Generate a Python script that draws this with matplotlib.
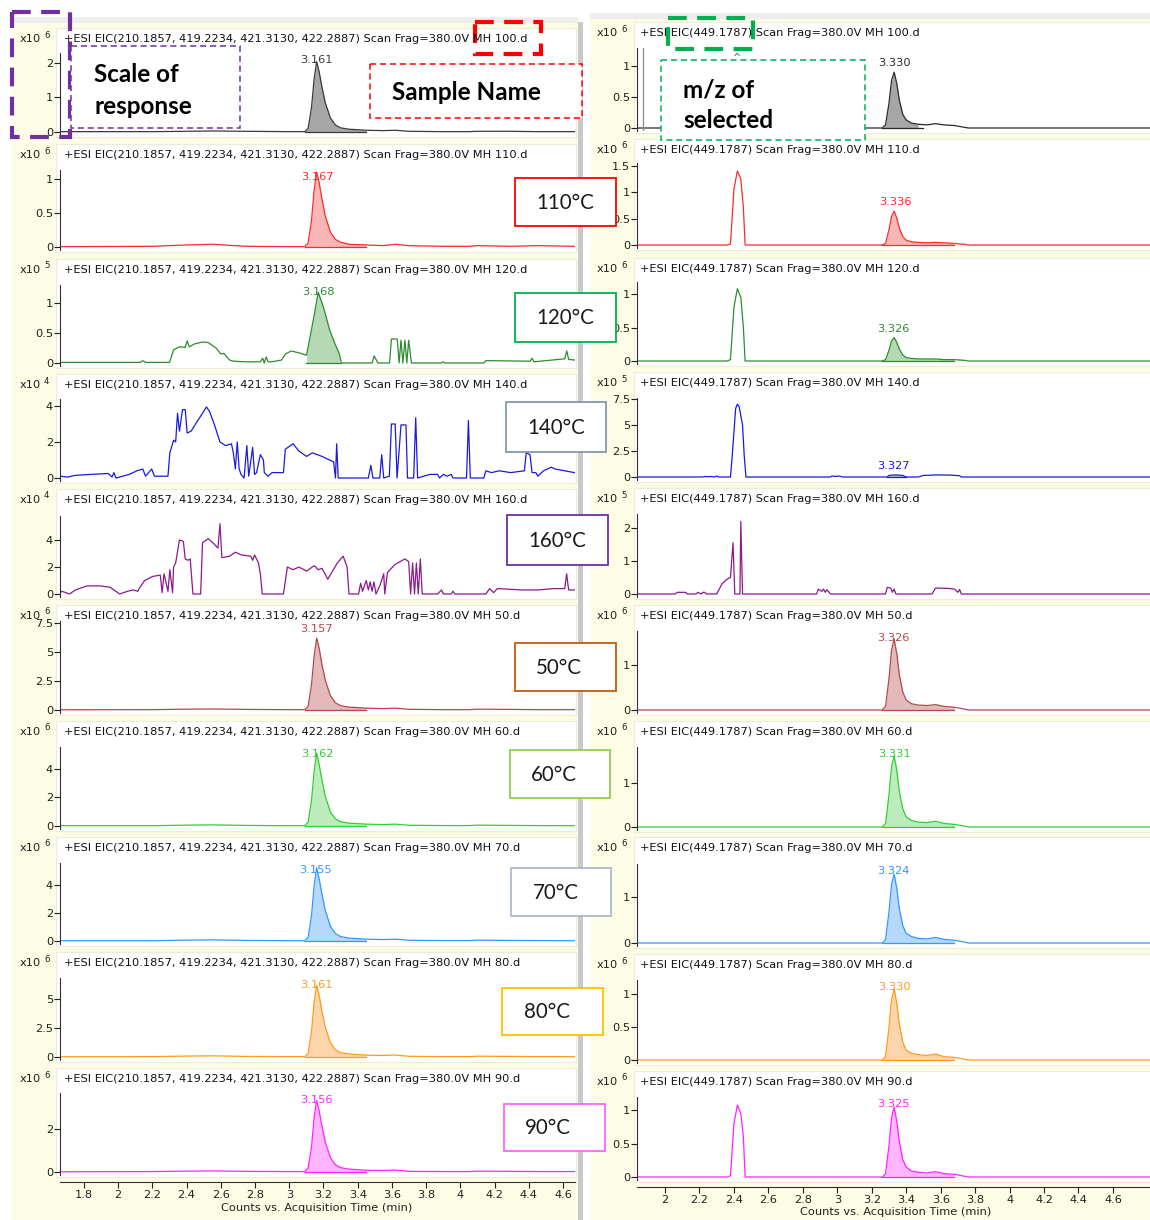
import matplotlib
matplotlib.use('Agg')
import matplotlib.pyplot as plt
from matplotlib.patches import Rectangle
import numpy as np

# ---------- data (time in min, counts in the x10^n units shown on each panel) ----------
SAMPLES = ['100', '110', '120', '140', '160', '50', '60', '70', '80', '90']
LEFT_MZ = '210.1857, 419.2234, 421.3130, 422.2887'
RIGHT_MZ = '449.1787'

# left column, smooth traces share one time grid
T_L = [1.66, 2.20, 2.40, 2.55, 2.75, 3.00, 3.09, 3.11, 3.13, 3.145, 3.16, 3.175, 3.19, 3.21,
       3.24, 3.27, 3.30, 3.35, 3.45, 3.55, 3.62, 3.70, 3.90, 4.05, 4.10, 4.30, 4.45, 4.67]
L100 = [0.01, 0.01, 0.02, 0.03, 0.02, 0.01, 0.01, 0.1, 0.71, 1.52, 2.03, 1.73, 1.32, 0.85,
        0.41, 0.2, 0.12, 0.08, 0.05, 0.04, 0.05, 0.02, 0.01, 0.01, 0.02, 0.02, 0.01, 0.01]
L110 = [0.005, 0.01, 0.03, 0.04, 0.01, 0.005, 0.005, 0.06, 0.39, 0.83, 1.10, 0.94, 0.72, 0.46,
        0.22, 0.11, 0.07, 0.04, 0.03, 0.02, 0.04, 0.02, 0.01, 0.01, 0.02, 0.01, 0.02, 0.01]
L50 = [0.02, 0.03, 0.07, 0.09, 0.05, 0.03, 0.03, 0.3, 2.2, 4.6, 6.2, 5.3, 4.0, 2.6,
       1.25, 0.62, 0.37, 0.25, 0.16, 0.12, 0.16, 0.06, 0.03, 0.03, 0.07, 0.05, 0.03, 0.03]
L60 = [0.02, 0.02, 0.06, 0.08, 0.04, 0.02, 0.02, 0.25, 1.8, 3.8, 5.1, 4.3, 3.3, 2.1,
       1.0, 0.5, 0.3, 0.2, 0.13, 0.1, 0.13, 0.05, 0.03, 0.03, 0.06, 0.04, 0.03, 0.02]
L70 = [0.02, 0.02, 0.06, 0.08, 0.04, 0.02, 0.02, 0.26, 1.8, 3.9, 5.2, 4.4, 3.4, 2.2,
       1.05, 0.52, 0.31, 0.21, 0.13, 0.1, 0.13, 0.05, 0.03, 0.03, 0.06, 0.04, 0.03, 0.02]
L80 = [0.02, 0.03, 0.08, 0.1, 0.05, 0.03, 0.03, 0.31, 2.2, 4.7, 6.2, 5.3, 4.0, 2.6,
       1.25, 0.62, 0.37, 0.26, 0.16, 0.13, 0.17, 0.06, 0.03, 0.03, 0.07, 0.05, 0.03, 0.03]
L90 = [0.01, 0.02, 0.04, 0.05, 0.03, 0.02, 0.02, 0.17, 1.15, 2.5, 3.3, 2.8, 2.15, 1.4,
       0.66, 0.33, 0.2, 0.13, 0.08, 0.07, 0.09, 0.03, 0.02, 0.02, 0.04, 0.03, 0.02, 0.02]

T120 = [1.660, 2.130, 2.144, 2.160, 2.300, 2.324, 2.358, 2.392, 2.403, 2.415,
        2.448, 2.493, 2.527, 2.572, 2.600, 2.617, 2.651, 2.674, 2.741, 2.831,
        2.845, 2.854, 2.865, 2.876, 2.899, 2.955, 2.978, 3.011, 3.056, 3.101,
        3.146, 3.169, 3.203, 3.236, 3.270, 3.293, 3.304, 3.484, 3.496, 3.518,
        3.586, 3.597, 3.631, 3.642, 3.653, 3.664, 3.676, 3.687, 3.698, 3.714,
        3.890, 3.900, 3.910, 4.137, 4.149, 4.408, 4.419, 4.430, 4.610, 4.622,
        4.633, 4.667]
L120 = [0.01, 0.01, 0.04, 0.01, 0.01, 0.22, 0.27, 0.26, 0.37, 0.27,
        0.32, 0.35, 0.34, 0.25, 0.15, 0.16, 0.05, 0.03, 0.02, 0.02,
        0.08, 0.0, 0.10, 0.02, 0.02, 0.05, 0.15, 0.20, 0.17, 0.13,
        0.8, 1.18, 0.9, 0.55, 0.3, 0.15, 0.0, 0.0, 0.12, 0.0,
        0.0, 0.4, 0.4, 0.0, 0.38, 0.0, 0.38, 0.0, 0.38, 0.0,
        0.0, 0.02, 0.0, 0.0, 0.04, 0.03, 0.08, 0.02, 0.07, 0.2,
        0.06, 0.05]

T140 = [1.660, 1.705, 1.750, 1.840, 1.942, 1.964, 1.975, 1.987, 2.065, 2.110,
        2.144, 2.160, 2.196, 2.212, 2.291, 2.302, 2.324, 2.336, 2.347, 2.358,
        2.376, 2.392, 2.403, 2.426, 2.459, 2.493, 2.516, 2.534, 2.561, 2.595,
        2.628, 2.662, 2.673, 2.685, 2.696, 2.707, 2.718, 2.736, 2.752, 2.763,
        2.786, 2.797, 2.809, 2.831, 2.849, 2.854, 2.876, 2.899, 2.966, 2.977,
        3.022, 3.056, 3.101, 3.135, 3.191, 3.236, 3.259, 3.270, 3.277, 3.286,
        3.462, 3.477, 3.489, 3.529, 3.540, 3.552, 3.585, 3.597, 3.619, 3.630,
        3.653, 3.682, 3.691, 3.727, 3.739, 3.750, 3.822, 3.867, 3.878, 3.901,
        3.923, 3.946, 3.957, 4.036, 4.047, 4.058, 4.137, 4.149, 4.182, 4.227,
        4.295, 4.374, 4.385, 4.407, 4.419, 4.441, 4.453, 4.486, 4.531, 4.554,
        4.610, 4.666]
L140 = [0.1, 0.05, 0.15, 0.2, 0.25, 0.05, 0.3, 0.0, 0.2, 0.4,
        0.5, 0.1, 0.5, 0.1, 0.1, 1.4, 2.1, 2.0, 3.6, 2.6,
        3.8, 3.8, 2.5, 2.6, 3.1, 3.6, 3.95, 3.7, 3.0, 2.0,
        1.8, 1.9, 1.4, 0.5, 2.0, 0.5, 0.2, 0.0, 1.8, 0.1,
        1.7, 0.2, 0.3, 1.3, 1.0, 0.3, 0.1, 0.3, 0.3, 1.6,
        1.9, 1.5, 1.2, 1.4, 1.2, 1.0, 0.9, 0.0, 1.9, 0.0,
        0.0, 0.7, 0.0, 0.0, 1.3, 0.0, 0.1, 3.0, 3.0, 0.0,
        2.95, 2.95, 0.0, 0.0, 3.35, 0.0, 0.2, 0.2, 0.0, 0.2,
        0.1, 0.2, 0.0, 0.0, 3.2, 0.0, 0.0, 0.4, 0.3, 0.4,
        0.3, 0.4, 1.4, 1.3, 0.3, 0.3, 0.1, 0.4, 0.6, 0.5,
        0.4, 0.3]

T160 = [1.660, 1.671, 1.694, 1.716, 1.750, 1.818, 1.896, 1.953, 2.009, 2.054,
        2.088, 2.115, 2.122, 2.155, 2.201, 2.246, 2.257, 2.268, 2.291, 2.302,
        2.318, 2.324, 2.336, 2.358, 2.381, 2.392, 2.408, 2.421, 2.437, 2.482,
        2.493, 2.527, 2.561, 2.583, 2.595, 2.606, 2.651, 2.685, 2.718, 2.775,
        2.786, 2.797, 2.820, 2.831, 2.842, 2.966, 2.989, 3.022, 3.056, 3.101,
        3.146, 3.169, 3.191, 3.225, 3.281, 3.315, 3.338, 3.349, 3.405, 3.417,
        3.428, 3.450, 3.462, 3.473, 3.484, 3.495, 3.507, 3.529, 3.552, 3.558,
        3.574, 3.619, 3.676, 3.698, 3.709, 3.721, 3.732, 3.743, 3.754, 3.766,
        3.777, 3.867, 3.890, 3.901, 3.946, 3.957, 3.968, 4.149, 4.171, 4.194,
        4.216, 4.363, 4.453, 4.543, 4.610, 4.621, 4.633, 4.666]
L160 = [0.1, 0.2, 0.1, 0.0, 0.3, 0.6, 0.6, 0.5, 0.0, 0.2,
        0.3, 0.2, 0.4, 1.0, 1.3, 1.4, 0.1, 1.5, 0.2, 1.8,
        0.1, 2.0, 2.3, 4.0, 3.9, 2.6, 2.5, 2.6, 0.0, 0.0,
        3.8, 4.1, 3.7, 3.4, 5.2, 2.7, 2.8, 3.1, 2.9, 2.8,
        2.5, 2.9, 2.3, 1.5, 0.0, 0.0, 2.0, 1.8, 2.0, 1.7,
        2.1, 1.8, 1.9, 1.1, 2.3, 2.8, 2.0, 0.0, 0.0, 0.8,
        0.2, 1.0, 0.3, 0.9, 0.2, 0.9, 0.0, 0.6, 1.5, 0.0,
        1.6, 2.2, 2.6, 2.4, 0.0, 2.3, 0.0, 2.3, 0.0, 2.6,
        0.0, 0.0, 0.3, 0.0, 0.0, 0.2, 0.0, 0.0, 0.4, 0.1,
        0.4, 0.3, 0.3, 0.4, 0.4, 1.5, 0.3, 0.3]

# right column, smooth traces share one time grid
T_R = [1.84, 2.30, 2.36, 2.38, 2.40, 2.42, 2.44, 2.455, 2.465, 2.50, 3.26, 3.28, 3.30, 3.315,
       3.33, 3.345, 3.36, 3.38, 3.40, 3.43, 3.47, 3.52, 3.57, 3.62, 3.68, 3.74, 3.76, 4.82]
R100 = [0, 0, 0, 0, 0, 0, 0, 0, 0, 0, 0, 0.05, 0.4, 0.77,
        0.9, 0.72, 0.45, 0.22, 0.13, 0.08, 0.06, 0.05, 0.07, 0.05, 0.04, 0.01, 0, 0]
R110 = [0, 0, 0, 0.02, 1.05, 1.4, 1.25, 0.7, 0, 0, 0, 0.03, 0.29, 0.54,
        0.64, 0.51, 0.32, 0.16, 0.09, 0.06, 0.05, 0.04, 0.05, 0.04, 0.03, 0.01, 0, 0]
R120 = [0, 0, 0, 0.02, 0.8, 1.08, 0.95, 0.5, 0, 0, 0, 0.02, 0.16, 0.3,
        0.35, 0.28, 0.18, 0.09, 0.05, 0.04, 0.03, 0.03, 0.03, 0.02, 0.02, 0.01, 0, 0]
R50 = [0, 0, 0, 0, 0, 0, 0, 0, 0, 0, 0, 0.08, 0.7, 1.34,
       1.58, 1.26, 0.79, 0.4, 0.22, 0.14, 0.11, 0.1, 0.12, 0.08, 0.06, 0.02, 0, 0]
R60 = [0, 0, 0, 0, 0, 0, 0, 0, 0, 0, 0, 0.08, 0.73, 1.38,
       1.62, 1.3, 0.81, 0.41, 0.23, 0.15, 0.11, 0.1, 0.13, 0.08, 0.06, 0.02, 0, 0]
R70 = [0, 0, 0, 0, 0, 0, 0, 0, 0, 0, 0, 0.07, 0.68, 1.28,
       1.5, 1.2, 0.75, 0.38, 0.21, 0.14, 0.1, 0.09, 0.12, 0.08, 0.06, 0.02, 0, 0]
R80 = [0, 0, 0, 0, 0, 0, 0, 0, 0, 0, 0, 0.05, 0.49, 0.92,
       1.08, 0.86, 0.54, 0.27, 0.15, 0.1, 0.08, 0.07, 0.09, 0.05, 0.04, 0.01, 0, 0]
R90 = [0, 0, 0, 0.02, 0.8, 1.08, 0.95, 0.6, 0, 0, 0, 0.05, 0.47, 0.89,
       1.05, 0.84, 0.53, 0.26, 0.15, 0.09, 0.07, 0.06, 0.08, 0.05, 0.04, 0.01, 0, 0]

TR140 = [1.84, 2.22, 2.23, 2.25, 2.27, 2.29, 2.30, 2.31, 2.38, 2.39, 2.41, 2.42, 2.43, 2.45,
         2.46, 2.47, 2.96, 2.97, 2.99, 3.01, 3.03, 3.04, 3.29, 3.30, 3.33, 3.36, 3.38, 3.40,
         3.47, 3.50, 3.58, 3.66, 3.71, 3.72, 4.82]
R140 = [0, 0, 0.05, 0.03, 0.05, 0.0, 0.1, 0.0, 0.0, 2.0, 6.6, 7.0, 6.8, 5.0,
        2.0, 0.0, 0.0, 0.1, 0.05, 0.1, 0.0, 0.0, 0.0, 0.15, 0.2, 0.18, 0.15, 0.0,
        0.0, 0.15, 0.2, 0.18, 0.12, 0.0, 0.0]

TR160 = [1.84, 2.06, 2.07, 2.12, 2.13, 2.18, 2.19, 2.21, 2.22, 2.23, 2.24, 2.30, 2.33, 2.36,
         2.38, 2.395, 2.405, 2.435, 2.44, 2.45, 2.88, 2.89, 2.91, 2.92, 2.93, 2.94, 2.96,
         3.28, 3.29, 3.31, 3.32, 3.33, 3.34, 3.55, 3.57, 3.64, 3.68, 3.70, 3.71, 3.72, 4.82]
R160 = [0, 0, 0.05, 0.05, 0.0, 0.0, 0.05, 0.0, 0.05, 0.05, 0.0, 0.0, 0.3, 0.45,
        0.5, 1.55, 0.0, 0.0, 2.2, 0.0, 0.0, 0.15, 0.08, 0.15, 0.05, 0.13, 0.0,
        0.0, 0.2, 0.18, 0.05, 0.15, 0.0, 0.0, 0.18, 0.17, 0.15, 0.05, 0.14, 0.0, 0.0]

LEFT_T = [T_L, T_L, T120, T140, T160, T_L, T_L, T_L, T_L, T_L]
LEFT_Y = [L100, L110, L120, L140, L160, L50, L60, L70, L80, L90]
RIGHT_T = [T_R, T_R, T_R, TR140, TR160, T_R, T_R, T_R, T_R, T_R]
RIGHT_Y = [R100, R110, R120, R140, R160, R50, R60, R70, R80, R90]

LEFT_EXP = [6, 6, 5, 4, 4, 6, 6, 6, 6, 6]
RIGHT_EXP = [6, 6, 6, 5, 5, 6, 6, 6, 6, 6]
LEFT_YTICKS = [[0, 1, 2], [0, 0.5, 1], [0, 0.5, 1], [0, 2, 4], [0, 2, 4],
               [0, 2.5, 5, 7.5], [0, 2, 4], [0, 2, 4], [0, 2.5, 5], [0, 2]]
RIGHT_YTICKS = [[0, 0.5, 1], [0, 0.5, 1, 1.5], [0, 0.5, 1], [0, 2.5, 5, 7.5], [0, 1, 2],
                [0, 1], [0, 1], [0, 1], [0, 0.5, 1], [0, 0.5, 1]]
LEFT_YMAX = [2.28, 1.13, 1.3, 4.39, 5.78, 7.67, 5.54, 5.54, 6.81, 3.64]
RIGHT_YMAX = [1.29, 1.55, 1.18, 7.6, 2.42, 1.76, 1.82, 1.72, 1.21, 1.2]
LEFT_RT = ['3.161', '3.167', '3.168', None, None, '3.157', '3.162', '3.155', '3.161', '3.156']
RIGHT_RT = ['3.330', '3.336', '3.326', '3.327', None, '3.326', '3.331', '3.324', '3.330', '3.325']
TEMP_LABELS = ['110°C', '120°C', '140°C', '160°C', '50°C', '60°C', '70°C', '80°C', '90°C']

# ---------- styles / layout (pixels) ----------
LINE_C = ['#3a3a3a', '#ff2a2a', '#2e8b2e', '#1a1adc', '#8b1a8b',
          '#b5474b', '#33cc33', '#3399ff', '#ff9a1a', '#ff22ff']
FILL_C = ['#a6a6a6', '#f9b6b6', '#b5d9b5', '#b8b8f5', '#dbb5db',
          '#e3b9ba', '#bcecbc', '#b6d8fb', '#fdd5aa', '#ffb6ff']
BOX_C = ['#ff0000', '#00b050', '#8497b0', '#7030a0', '#c55a11',
         '#92d050', '#adb9ca', '#ffc000', '#ff66ff']
BOX_XY = [(515, 178, 616, 226), (515, 293, 616, 342), (506, 402, 606, 452),
          (507, 515, 608, 565), (515, 643, 616, 691), (510, 750, 610, 798),
          (511, 868, 611, 916), (502, 988, 603, 1035), (504, 1104, 605, 1151)]
BOX_TX = [565, 565, 556, 557, 559, 554, 556, 547, 548]

ZL = [132, 247, 363, 478, 594, 710, 826, 941, 1057, 1172]
TL = [53, 170, 285, 399, 516, 621, 747, 863, 978, 1093]
TTL = [39, 155, 270, 385, 500, 616, 732, 848, 963, 1079]
ZR = [128, 245, 361, 477, 594, 710, 827, 943, 1060, 1177]
TR = [48, 163, 282, 398, 514, 631, 747, 864, 980, 1097]
TTR = [33, 150, 269, 383, 499, 616, 732, 848, 965, 1082]

W, H = 1150, 1220
UI = ['DejaVu Sans']
CAL = ['Lato', 'DejaVu Sans']
FS = 8.2

fig = plt.figure(figsize=(W / 100, H / 100), dpi=100)


def px_box(x0, y0, x1, y1):
    return [x0 / W, 1 - y1 / H, (x1 - x0) / W, (y1 - y0) / H]


# background layer
bg = fig.add_axes([0, 0, 1, 1], zorder=-5)
bg.set_xlim(0, W)
bg.set_ylim(H, 0)
bg.axis('off')
bg.add_patch(Rectangle((12, 22), 566, 1198, fc='#fdfde6', ec='none'))
bg.add_patch(Rectangle((590, 18), 560, 1202, fc='#fdfde6', ec='none'))
bg.add_patch(Rectangle((12, 17), 566, 6, fc='#ededed', ec='none'))
bg.add_patch(Rectangle((590, 13), 560, 6, fc='#ededed', ec='none'))
bg.add_patch(Rectangle((578, 22), 5, 1198, fc='#c9c9c9', ec='none'))
for i in range(10):
    bg.add_patch(Rectangle((56, TTL[i] - 11), 520, ZL[i] + 5 - (TTL[i] - 11),
                           fc='white', ec='#ececdc', lw=0.8))
    bg.add_patch(Rectangle((634, TTR[i] - 11), 520, ZR[i] + 5 - (TTR[i] - 11),
                           fc='white', ec='#ececdc', lw=0.8))

ov = fig.add_axes([0, 0, 1, 1], zorder=10)
ov.set_xlim(0, W)
ov.set_ylim(H, 0)
ov.axis('off')


def fmt(v):
    return '%g' % v


def panel(x0, x1, top, zero, xlim, t, y, ymax, yticks, color, fill, frange, rt, bottom):
    ax = fig.add_axes(px_box(x0, top, x1, zero + 3), zorder=1)
    ax.set_facecolor('none')
    upp = ymax / (zero - top)
    t = np.array(t)
    y = np.array(y)
    ax.plot(t, y, color=color, lw=0.9, solid_joinstyle='round')
    if frange is not None:
        m = (t >= frange[0]) & (t <= frange[1])
        ax.fill_between(t, y, 0, where=m, color=fill, lw=0)
        ax.plot([frange[0], frange[1]], [0, 0], color=color, lw=0.9)
    ax.set_xlim(*xlim)
    ax.set_ylim(-3 * upp, ymax)
    for s in ['top', 'right']:
        ax.spines[s].set_visible(False)
    ax.spines['left'].set_color('#303030')
    ax.spines['left'].set_linewidth(0.8)
    ax.set_yticks(yticks)
    ax.set_yticklabels([fmt(v) for v in yticks])
    ax.tick_params(axis='y', direction='out', length=4, width=0.8, pad=1,
                   labelsize=FS, colors='#202020')
    for lab in ax.get_yticklabels():
        lab.set_fontfamily(UI)
    if rt is not None:
        r = float(rt)
        near = np.abs(t - r) < 0.05
        pv = y[near].max()
        ly = min(pv / upp + 9, (zero - top) - 7) * upp
        ax.text(r, ly, rt, color=color, fontsize=FS, family=UI,
                ha='center', va='center', clip_on=False)
    if bottom:
        ax.spines['bottom'].set_position(('outward', 5))
        ax.spines['bottom'].set_color('#303030')
        ax.spines['bottom'].set_linewidth(0.8)
    else:
        ax.spines['bottom'].set_visible(False)
        ax.set_xticks([])
    return ax


left_fill = [(3.09, 3.45), (3.09, 3.45), (3.10, 3.30), None, None,
             (3.09, 3.45), (3.09, 3.45), (3.09, 3.45), (3.09, 3.45), (3.09, 3.45)]
right_fill = [(3.26, 3.5), (3.26, 3.68), (3.26, 3.68), (3.29, 3.40), None,
              (3.26, 3.68), (3.26, 3.68), (3.26, 3.68), (3.26, 3.68), (3.26, 3.68)]

for i in range(10):
    bottom = (i == 9)
    lc = LINE_C[i]
    axl = panel(60, 575, TL[i], ZL[i], (1.66, 4.67), LEFT_T[i], LEFT_Y[i], LEFT_YMAX[i],
                LEFT_YTICKS[i], lc, FILL_C[i], left_fill[i], LEFT_RT[i], bottom)
    rc = '#2a2a2a' if i == 0 else lc
    axr = panel(637, 1150, TR[i], ZR[i], (1.8375, 4.815), RIGHT_T[i], RIGHT_Y[i], RIGHT_YMAX[i],
                RIGHT_YTICKS[i], rc, FILL_C[i], right_fill[i], RIGHT_RT[i], bottom)
    if i == 0:
        axr.axvline(1.87, color='#909090', lw=1)
        axr.text(2.42, 1.13, '^', color='#555555', fontsize=7, family=UI, ha='center', va='center')
    if bottom:
        xt = [1.8, 2.0, 2.2, 2.4, 2.6, 2.8, 3.0, 3.2, 3.4, 3.6, 3.8, 4.0, 4.2, 4.4, 4.6]
        axl.set_xticks(xt)
        axl.set_xticklabels([fmt(v) for v in xt])
        xt2 = xt[1:]
        axr.set_xticks(xt2)
        axr.set_xticklabels([fmt(v) for v in xt2])
        for a in (axl, axr):
            a.tick_params(axis='x', direction='out', length=4, width=0.8, pad=2,
                          labelsize=FS, colors='#202020')
            for lab in a.get_xticklabels():
                lab.set_fontfamily(UI)

    # titles and scale labels
    ov.text(64, TTL[i], '+ESI EIC(%s) Scan Frag=380.0V MH %s.d' % (LEFT_MZ, SAMPLES[i]),
            fontsize=FS, family=UI, color='#111111', va='center', ha='left')
    ov.text(640, TTR[i], '+ESI EIC(%s) Scan Frag=380.0V MH %s.d' % (RIGHT_MZ, SAMPLES[i]),
            fontsize=FS, family=UI, color='#111111', va='center', ha='left')
    ov.text(20, TTL[i], 'x10', fontsize=FS, family=UI, color='#202020', va='center')
    ov.text(44, TTL[i] - 4, str(LEFT_EXP[i]), fontsize=6.2, family=UI, color='#202020', va='center')
    ov.text(597, TTR[i], 'x10', fontsize=FS, family=UI, color='#202020', va='center')
    ov.text(621, TTR[i] - 4, str(RIGHT_EXP[i]), fontsize=6.2, family=UI, color='#202020', va='center')

ov.text(317, 1208, 'Counts vs. Acquisition Time (min)', fontsize=FS, family=UI,
        color='#202020', ha='center', va='center')
ov.text(896, 1212, 'Counts vs. Acquisition Time (min)', fontsize=FS, family=UI,
        color='#202020', ha='center', va='center')

# temperature boxes
for (x0, y0, x1, y1), c, tx, lab in zip(BOX_XY, BOX_C, BOX_TX, TEMP_LABELS):
    ov.add_patch(Rectangle((x0, y0), x1 - x0, y1 - y0, fc='white', ec=c, lw=1.3))
    ov.text(tx, (y0 + y1) / 2 + 1, lab, fontsize=14.8, family=CAL, color='#1a1a1a',
            ha='center', va='center')

# explanatory dashed boxes
PURPLE, RED, GREEN = '#7030a0', '#ff0000', '#00b050'
ov.add_patch(Rectangle((12, 12), 58, 125, fill=False, ec=PURPLE, lw=3, ls=(0, (4.5, 2.5))))
ov.add_patch(Rectangle((71, 46), 169, 82, fc='white', ec=PURPLE, lw=1.1, ls=(0, (4, 2.5))))
ov.add_patch(Rectangle((475, 22), 66, 32, fill=False, ec=RED, lw=3, ls=(0, (4.5, 2.5))))
ov.add_patch(Rectangle((370, 64), 212, 54, fc='white', ec=RED, lw=1.1, ls=(0, (4, 2.5))))
ov.add_patch(Rectangle((668, 18), 85, 31, fill=False, ec=GREEN, lw=3, ls=(0, (4.5, 2.5))))
ov.add_patch(Rectangle((661, 60), 204, 80, fc='white', ec=GREEN, lw=1.1, ls=(0, (4, 2.5))))
BIG = 17.5
ov.text(94, 75, 'Scale of', fontsize=BIG, family=CAL, weight='bold', color='black',
        ha='left', va='center')
ov.text(94, 107, 'response', fontsize=BIG, family=CAL, weight='bold', color='black',
        ha='left', va='center')
ov.text(466, 92, 'Sample Name', fontsize=BIG, family=CAL, weight='bold', color='black',
        ha='center', va='center')
ov.text(683, 90, 'm/z of', fontsize=BIG, family=CAL, weight='bold', color='black',
        ha='left', va='center')
ov.text(683, 121, 'selected', fontsize=BIG, family=CAL, weight='bold', color='black',
        ha='left', va='center')

fig.savefig('out.png', dpi=100)
